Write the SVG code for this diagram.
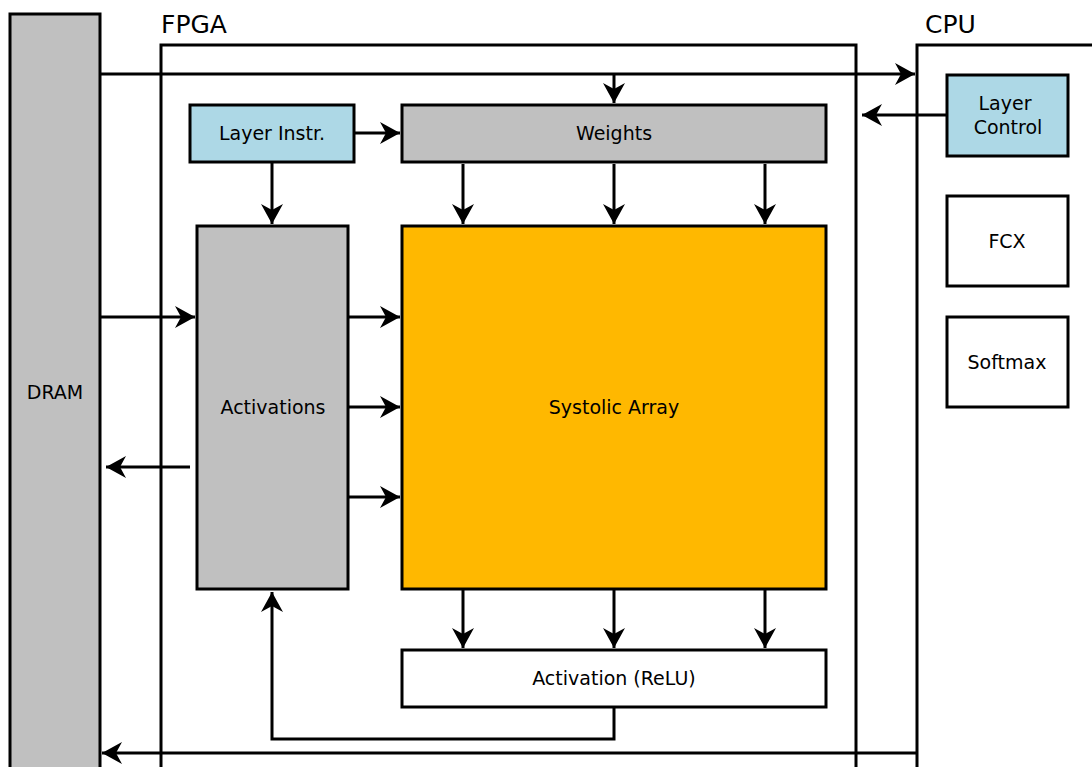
<svg xmlns="http://www.w3.org/2000/svg" width="1092" height="767" viewBox="0 0 1092 767">
<style>
.box{stroke:#000;stroke-width:3}
.g{fill:#c0c0c0}
.b{fill:#add8e6}
.w{fill:#fff}
.o{fill:#ffb800}
.t{font-family:"DejaVu Sans",sans-serif;font-size:19px;fill:#000;text-anchor:middle;dominant-baseline:central}
.big{font-family:"DejaVu Sans",sans-serif;font-size:25px;fill:#000}
.c{fill:none;stroke:#000;stroke-width:3;marker-end:url(#ah)}
</style>
<defs>
<marker id="ah" markerUnits="userSpaceOnUse" markerWidth="24" markerHeight="24" viewBox="-22 -12 24 24" refX="0" refY="0" orient="auto" overflow="visible">
<path d="M0,0 L-20,-11 L-14,0 L-20,11 Z" fill="#000"/>
</marker>
</defs>
<rect width="1092" height="767" fill="#fff"/>
<g id="dram"><rect class="box g" x="10" y="14" width="90" height="770"/><text class="t" x="55" y="392">DRAM</text></g>
<g id="fpga"><rect class="box w" x="161" y="45" width="695" height="740"/><text class="big" x="161" y="33">FPGA</text></g>
<g id="cpu"><rect class="box w" x="917" y="45" width="200" height="740"/><text class="big" x="925" y="33">CPU</text></g>
<g id="connectors">
<path class="c" d="M100,74 H915"/>
<path class="c" d="M614,74 V103"/>
<path class="c" d="M354,133 H400"/>
<path class="c" d="M947,115 H862"/>
<path class="c" d="M272,162 V224"/>
<path class="c" d="M463,164 V224"/>
<path class="c" d="M614,164 V224"/>
<path class="c" d="M765,164 V224"/>
<path class="c" d="M100,317 H195"/>
<path class="c" d="M348,317 H400"/>
<path class="c" d="M348,407 H400"/>
<path class="c" d="M348,497 H400"/>
<path class="c" d="M190,467 H106"/>
<path class="c" d="M463,589 V648"/>
<path class="c" d="M614,589 V648"/>
<path class="c" d="M765,589 V648"/>
<path class="c" d="M614,707 V739 H272 V592"/>
<path class="c" d="M917,753 H102"/>
</g>
<g id="layer-instr"><rect class="box b" x="190" y="105" width="164" height="57"/><text class="t" x="272" y="133">Layer Instr.</text></g>
<g id="weights"><rect class="box g" x="402" y="105" width="424" height="57"/><text class="t" x="614" y="133">Weights</text></g>
<g id="layer-control"><rect class="box b" x="947" y="75" width="121" height="81"/><text class="t" x="1005" y="103">Layer</text><text class="t" x="1008" y="127">Control</text></g>
<g id="fcx"><rect class="box w" x="947" y="196" width="121" height="90"/><text class="t" x="1007" y="241">FCX</text></g>
<g id="softmax"><rect class="box w" x="947" y="317" width="121" height="90"/><text class="t" x="1007" y="362">Softmax</text></g>
<g id="activations"><rect class="box g" x="197" y="226" width="151" height="363"/><text class="t" x="273" y="407">Activations</text></g>
<g id="systolic"><rect class="box o" x="402" y="226" width="424" height="363"/><text class="t" x="614" y="407">Systolic Array</text></g>
<g id="relu"><rect class="box w" x="402" y="650" width="424" height="57"/><text class="t" x="614" y="678">Activation (ReLU)</text></g>
</svg>
